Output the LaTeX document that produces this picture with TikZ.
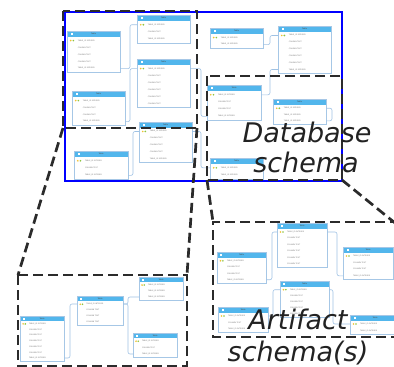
\documentclass[tikz,border=0pt]{standalone}
\usepackage{fontspec}
\setmainfont{DejaVu Sans}
\usetikzlibrary{calc}
\definecolor{hdrblue}{HTML}{52B6EC}
\definecolor{tbline}{HTML}{A6C7E6}
\definecolor{relc}{HTML}{9FC2E4}
\definecolor{dashc}{HTML}{2B2B2B}
\definecolor{labc}{HTML}{222222}
\definecolor{keyy}{HTML}{F2C12E}
\definecolor{keyg}{HTML}{8CC63F}
\tikzset{
 tblbox/.style={fill=white, inner sep=0, outer sep=0},
 tbledge/.style={draw=tbline, line width=0.8pt},
 hdr/.style={fill=hdrblue},
 rowtxt/.style={font=\fontsize{1.8}{2}\selectfont, text=black!55, inner sep=0},
 hdrtxt/.style={font=\fontsize{1.9}{2}\selectfont, text=black!70, inner sep=0},
 rel/.style={draw=relc, line width=0.6pt, rounded corners=2pt},
 zoombox/.style={draw=dashc, line width=2.7pt, dash pattern=on 10pt off 5pt},
 dbframe/.style={draw=blue, line width=1.6pt},
 biglabel/.style={font=\fontsize{27}{30}\selectfont\itshape, text=labc, inner sep=0},
}
\newcommand\ktxt{TABLE\_ID INTEGER}
\newcommand\ctxt{COLUMN TEXT}
% name, x, y, width, height, rows, row list
\newcommand\dbt[7]{%
 \pgfmathsetmacro\hh{0.115*#4}%
 \pgfmathsetmacro\rh{(#5-\hh)/#6}%
 \node[tblbox, anchor=north west, minimum width=#4, minimum height=#5] (#1) at (#2,#3) {};
 \fill[hdr] (#1.north west) rectangle ($(#1.north east)+(0,\hh)$);
 \fill[white] ($(#1.north west)+(0.07*#4,0.3*\hh)$) rectangle ($(#1.north west)+(0.11*#4,0.7*\hh)$);
 \node[hdrtxt] at ($(#1.north)+(0,0.5*\hh)$) {Table};
 \fill[keyy] ($(#1.north west)+(0.07*#4,\hh+0.5*\rh)$) circle (0.9);
 \fill[keyg] ($(#1.north west)+(0.12*#4,\hh+0.5*\rh)$) circle (0.9);
 \foreach \rl [count=\i] in {#7} {\node[rowtxt, anchor=west] at ($(#1.north west)+(0.2*#4,\hh+\i*\rh-0.5*\rh)$) {\rl};}
 \draw[tbledge] (#1.north west) rectangle (#1.south east);
}
\begin{document}
\begin{tikzpicture}[x=1pt,y=-1pt]
\useasboundingbox (0,0) rectangle (394,367);
\clip (0,0) rectangle (394,367);
% database tables
\dbt{T1}{67}{31}{53}{41}{5}{\ktxt,\ctxt,\ctxt,\ctxt,\ktxt}
\dbt{T2}{137}{15}{53}{28}{3}{\ktxt,\ctxt,\ktxt}
\dbt{T3}{137}{59}{53}{48}{6}{\ktxt,\ctxt,\ctxt,\ctxt,\ctxt,\ctxt}
\dbt{T4}{72}{91}{53}{34}{4}{\ktxt,\ctxt,\ctxt,\ktxt}
\dbt{T5}{139}{122}{53}{40}{5}{\ktxt,\ctxt,\ctxt,\ctxt,\ktxt}
\dbt{T6}{74}{151}{54}{28}{3}{\ktxt,\ctxt,\ktxt}
\dbt{T7}{210}{28}{53}{20}{2}{\ktxt,\ktxt}
\dbt{T8}{278}{26}{53}{47}{6}{\ktxt,\ctxt,\ctxt,\ctxt,\ctxt,\ktxt}
\dbt{T9}{207}{85}{54}{35}{4}{\ktxt,\ctxt,\ctxt,\ktxt}
\dbt{T10}{273}{99}{53}{25}{3}{\ktxt,\ktxt,\ktxt}
\dbt{T11}{210}{158}{53}{21}{2}{\ktxt,\ktxt}
% artifact tables
\dbt{L1}{277}{223}{50}{44}{6}{\ktxt,\ctxt,\ctxt,\ctxt,\ctxt,\ctxt}
\dbt{L2}{217}{252}{49}{31}{4}{\ktxt,\ctxt,\ctxt,\ktxt}
\dbt{L3}{343}{247}{50}{32}{4}{\ktxt,\ctxt,\ctxt,\ktxt}
\dbt{L4}{280}{281}{49}{36}{5}{\ktxt,\ctxt,\ctxt,\ctxt,\ctxt}
\dbt{L5}{218}{307}{50}{25}{3}{\ktxt,\ctxt,\ktxt}
\dbt{L6}{350}{315}{50}{19}{2}{\ktxt,\ktxt}
% zoomed tables
\dbt{B1}{20}{316}{44}{45}{7}{\ktxt,\ctxt,\ctxt,\ctxt,\ctxt,\ctxt,\ktxt}
\dbt{B2}{77}{296}{46}{29}{4}{\ktxt,\ctxt,\ctxt,\ctxt}
\dbt{B3}{139}{277}{44}{23}{3}{\ktxt,\ktxt,\ktxt}
\dbt{B4}{133}{333}{44}{24}{3}{\ktxt,\ctxt,\ktxt}
% relations
\draw[rel] ($(T1.north east)+(0,37.6)$) -- ++(10,0) |- ($(T2.north west)+(0,9.7)$);
\draw[rel] ($(T4.north east)+(0,30.6)$) -- ++(5,0) |- ($(T3.north west)+(0,9.6)$);
\draw[rel] ($(T6.north east)+(0,24.4)$) -- ++(5,0) |- ($(T5.north west)+(0,9.5)$);
\draw[rel] ($(T3.north east)+(0,9.6)$) -- ++(11,0) |- ($(T9.north west)+(0,31.4)$);
\draw[rel] ($(T5.north east)+(0,9.5)$) -- ++(9,0) |- ($(T11.north west)+(0,9.8)$);
\draw[rel] ($(T7.north east)+(0,16.6)$) -- ++(7,0) |- ($(T8.north west)+(0,9.5)$);
\draw[rel] ($(T9.north east)+(0,9.8)$) -- ++(9,0) |- ($(T8.north west)+(0,43.5)$);
\draw[rel] ($(T10.north east)+(0,9.2)$) -- ++(6,0) |- ($(T10.north east)+(0,21.8)$);
\draw[rel] ($(L2.north east)+(0,27.7)$) -- ++(6,0) |- ($(L1.north west)+(0,9)$);
\draw[rel] ($(L1.north east)+(0,9)$) -- ++(10,0) |- ($(L3.north west)+(0,28.8)$);
\draw[rel] ($(L4.north west)+(0,8.7)$) -- ++(-7,0) |- ($(L5.north east)+(0,9)$);
\draw[rel] ($(L4.north east)+(0,8.7)$) -- ++(4,0) |- ($(L6.north west)+(0,9)$);
\draw[rel] ($(B1.north east)+(0,42)$) -- ++(6,0) |- ($(B2.north west)+(0,8)$);
\draw[rel] ($(B2.north east)+(0,8)$) -- ++(5,0) |- ($(B3.north west)+(0,20)$);
\draw[rel] ($(B2.north east)+(0,8)$) -- ++(5,0) |- ($(B4.north west)+(0,21)$);
% database frame
\draw[dbframe] (65,12) rectangle (342,181);
% zoom regions
\coordinate (za1) at (63,11);  \coordinate (za2) at (197,128);
\coordinate (za3) at (63,128);
\coordinate (zb1) at (18,275); \coordinate (zb2) at (187,366);
\coordinate (zb3) at (187,275);
\coordinate (zc1) at (207,76); \coordinate (zc2) at (342,180);
\coordinate (zc3) at (207,180);
\coordinate (zd1) at (213,222); \coordinate (zd2) at (400,222);
\coordinate (zd3) at (213,337); \coordinate (zd4) at (400,337);
\coordinate (zd5) at (400,227);
\draw[zoombox] (za1) rectangle (za2);
\draw[zoombox] (za3) -- (zb1);
\draw[zoombox] (za2) -- (zb3);
\draw[zoombox] (zb1) rectangle (zb2);
\draw[zoombox] (zc1) rectangle (zc2);
\draw[zoombox] (zc3) -- (zd1);
\draw[zoombox] (zc2) -- (zd5);
\draw[zoombox] (zd2) -- (zd1) -- (zd3) -- (zd4);
% labels
\node[biglabel, anchor=base] (db1) at (307,142) {Database};
\node[biglabel, anchor=base] (db2) at (306,172) {schema};
\node[biglabel, anchor=base] (ar1) at (298,329) {Artifact};
\node[biglabel, anchor=base] (ar2) at (298,361) {schema(s)};
\end{tikzpicture}
\end{document}
